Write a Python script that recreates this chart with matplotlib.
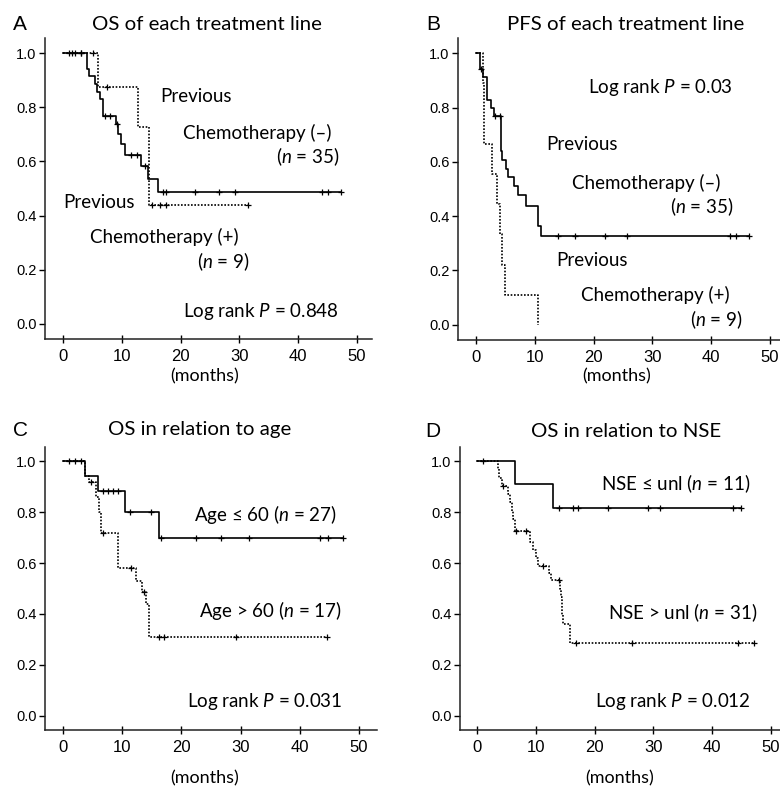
import numpy as np
import matplotlib
matplotlib.use("Agg")
import matplotlib.pyplot as plt

plt.rcParams["mathtext.fontset"] = "custom"
plt.rcParams["mathtext.rm"] = "Lato"
plt.rcParams["mathtext.it"] = "Lato:italic"

# ---------------- data ----------------
# Panel A: OS of each treatment line
a_neg_times = [0, 4.0, 4.4, 5.4, 5.8, 6.3, 6.8, 9.0, 9.4, 9.8, 10.5, 13.2, 14.4, 16.2]
a_neg_surv = [1.0, 0.943, 0.914, 0.886, 0.857, 0.829, 0.767, 0.737, 0.700, 0.663, 0.625, 0.582, 0.535, 0.487]
a_neg_end = 47.3
a_neg_cens = [1.0, 2.0, 3.0, 7.2, 8.0, 9.2, 11.5, 12.5, 14.0, 17.0, 17.5, 22.5, 26.5, 29.3, 44.0, 45.0, 47.3]

a_pos_times = [0, 6.0, 12.7, 14.7]
a_pos_surv = [1.0, 0.875, 0.729, 0.4375]
a_pos_end = 31.5
a_pos_cens = [1.5, 3.0, 5.1, 7.5, 15.2, 16.5, 17.5, 31.5]

# Panel B: PFS of each treatment line
b_neg_times = [0, 0.7, 1.2, 1.8, 2.5, 3.0, 4.2, 4.5, 5.1, 5.5, 6.4, 7.2, 8.5, 10.6, 11.0]
b_neg_surv = [1.0, 0.943, 0.914, 0.829, 0.800, 0.767, 0.639, 0.607, 0.575, 0.543, 0.511, 0.479, 0.437, 0.364, 0.327]
b_neg_end = 46.5
b_neg_cens = [0.9, 3.2, 4.0, 13.9, 16.8, 21.9, 25.6, 43.2, 44.3, 46.5]

b_pos_times = [0, 1.2, 1.3, 1.4, 2.8, 3.5, 4.1, 4.4, 4.9, 10.6]
b_pos_surv = [1.0, 0.889, 0.778, 0.667, 0.556, 0.444, 0.333, 0.222, 0.111, 0.0]
b_pos_end = 10.6
b_pos_cens = []

# Panel C: OS in relation to age
c_young_times = [0, 3.8, 5.9, 10.5, 16.2]
c_young_surv = [1.0, 0.941, 0.882, 0.800, 0.700]
c_young_end = 47.3
c_young_cens = [1.0, 2.0, 3.0, 6.8, 7.6, 8.4, 9.3, 11.3, 14.9, 16.6, 22.5, 26.7, 31.5, 43.4, 44.8, 47.3]

c_old_times = [0, 3.8, 4.4, 5.5, 6.0, 6.5, 9.3, 12.4, 13.4, 14.0, 14.5]
c_old_surv = [1.0, 0.941, 0.920, 0.860, 0.800, 0.720, 0.580, 0.530, 0.485, 0.440, 0.310]
c_old_end = 44.6
c_old_cens = [4.8, 6.8, 11.5, 13.7, 16.3, 17.0, 29.3, 44.6]

# Panel D: OS in relation to NSE
d_low_times = [0, 6.4, 13.0]
d_low_surv = [1.0, 0.909, 0.818]
d_low_end = 44.9
d_low_cens = [1.1, 14.0, 16.3, 17.2, 22.3, 29.1, 31.2, 43.6, 44.9]

d_high_times = [0, 3.5, 3.8, 4.2, 5.2, 5.6, 5.9, 6.1, 6.4, 9.0, 9.5, 10.0, 10.3, 12.2, 12.5,
                14.2, 14.3, 14.4, 14.5, 14.6, 15.9]
d_high_surv = [1.0, 0.968, 0.935, 0.903, 0.871, 0.839, 0.806, 0.774, 0.725, 0.683, 0.650, 0.618,
               0.590, 0.562, 0.535, 0.500, 0.465, 0.430, 0.395, 0.359, 0.287]
d_high_end = 47.3
d_high_cens = [4.4, 6.6, 8.4, 11.2, 13.9, 16.9, 26.3, 44.4, 47.1]

x_ticks = [0, 10, 20, 30, 40, 50]
y_ticks = [0.0, 0.2, 0.4, 0.6, 0.8, 1.0]

# ---------------- drawing ----------------
W, H = 780, 791
TXT = ["Lato", "DejaVu Sans"]
TICKF = ["Liberation Sans", "DejaVu Sans"]
FS = 13.5

fig = plt.figure(figsize=(W / 100, H / 100), dpi=100)


def px_axes(left, top, right, bottom):
    return fig.add_axes([left / W, 1 - bottom / H, (right - left) / W, (bottom - top) / H])


def ftext(x, y, s, ha="left", size=FS, family=TXT, **kw):
    fig.text(x / W, 1 - y / H, s, ha=ha, va="center", fontsize=size, family=family, **kw)


def surv_at(t, times, surv):
    i = np.searchsorted(np.asarray(times), t, side="right") - 1
    return np.asarray(surv)[i]


def km(ax, times, surv, end, cens, dotted):
    xs = list(times) + [end]
    ys = list(surv) + [surv[-1]]
    ls = (0, (1, 1)) if dotted else "-"
    ax.plot(xs, ys, drawstyle="steps-post", color="black", lw=1.2, ls=ls)
    if len(cens):
        cy = [surv_at(t, times, surv) for t in cens]
        ax.plot(cens, cy, ls="none", marker="+", ms=5, mew=0.9, color="black")


def style(ax, xmin, xmax):
    ax.set_xlim(xmin, xmax)
    ax.set_ylim(-0.056, 1.056)
    for s in ("top", "right"):
        ax.spines[s].set_visible(False)
    for s in ("left", "bottom"):
        ax.spines[s].set_linewidth(1.1)
        ax.spines[s].set_color("#222222")
    ax.set_xticks(x_ticks)
    ax.set_yticks(y_ticks)
    ax.set_yticklabels([f"{v:.1f}" for v in y_ticks], family=TICKF, fontsize=10.5)
    ax.set_xticklabels([str(v) for v in x_ticks], family=TICKF, fontsize=12)
    ax.tick_params(axis="y", direction="out", length=4, width=1, pad=2)
    ax.tick_params(axis="x", direction="inout", length=6, width=1, pad=4)
    ax.set_facecolor("none")


# Panel A
axA = px_axes(45, 38, 372, 339)
km(axA, a_neg_times, a_neg_surv, a_neg_end, a_neg_cens, False)
km(axA, a_pos_times, a_pos_surv, a_pos_end, a_pos_cens, True)
style(axA, (45 - 63) / 5.88, (372 - 63) / 5.88)

# Panel B
axB = px_axes(458, 38, 782, 340)
km(axB, b_neg_times, b_neg_surv, b_neg_end, b_neg_cens, False)
km(axB, b_pos_times, b_pos_surv, b_pos_end, b_pos_cens, True)
style(axB, (458 - 476) / 5.88, (782 - 476) / 5.88)

# Panel C
axC = px_axes(45, 447, 377, 730)
km(axC, c_young_times, c_young_surv, c_young_end, c_young_cens, False)
km(axC, c_old_times, c_old_surv, c_old_end, c_old_cens, True)
style(axC, (45 - 63) / 5.92, (377 - 63) / 5.92)

# Panel D
axD = px_axes(460, 447, 782, 730)
km(axD, d_low_times, d_low_surv, d_low_end, d_low_cens, False)
km(axD, d_high_times, d_high_surv, d_high_end, d_high_cens, True)
style(axD, (460 - 477) / 5.88, (782 - 477) / 5.88)

# Panel letters & titles
for x, y, L in [(13, 24, "A"), (426, 24, "B"), (13, 430, "C"), (425, 431, "D")]:
    ftext(x, y, L, size=15, family=TICKF)
ftext(207, 24, "OS of each treatment line", ha="center", size=14.7)
ftext(626, 24, "PFS of each treatment line", ha="center", size=14.7)
ftext(200, 430, "OS in relation to age", ha="center", size=14.7)
ftext(626, 431, "OS in relation to NSE", ha="center", size=14.7)

# month labels
for x, y in [(205, 376), (617, 376), (205, 778), (620, 778)]:
    ftext(x, y, "(months)", ha="center", size=13)

# Panel A annotations
ftext(160, 97, "Previous")
ftext(183, 133, "Chemotherapy (–)")
ftext(339, 157, "($\\mathit{n}$ = 35)", ha="right")
ftext(63, 203, "Previous")
ftext(90, 237, "Chemotherapy (+)")
ftext(250, 262, "($\\mathit{n}$ = 9)", ha="right")
ftext(183, 312, "Log rank $\\mathit{P}$ = 0.848")

# Panel B annotations
ftext(588, 88, "Log rank $\\mathit{P}$ = 0.03")
ftext(546, 145, "Previous")
ftext(572, 183, "Chemotherapy (–)")
ftext(733, 207, "($\\mathit{n}$ = 35)", ha="right")
ftext(556, 260, "Previous")
ftext(581, 295, "Chemotherapy (+)")
ftext(743, 320, "($\\mathit{n}$ = 9)", ha="right")

# Panel C annotations
ftext(337, 515, "Age ≤ 60 ($\\mathit{n}$ = 27)", ha="right")
ftext(342, 610, "Age > 60 ($\\mathit{n}$ = 17)", ha="right")
ftext(342, 702, "Log rank $\\mathit{P}$ = 0.031", ha="right")

# Panel D annotations
ftext(750, 484, "NSE ≤ unl ($\\mathit{n}$ = 11)", ha="right")
ftext(757, 613, "NSE > unl ($\\mathit{n}$ = 31)", ha="right")
ftext(751, 702, "Log rank $\\mathit{P}$ = 0.012", ha="right")

fig.savefig("out.png", dpi=100)
